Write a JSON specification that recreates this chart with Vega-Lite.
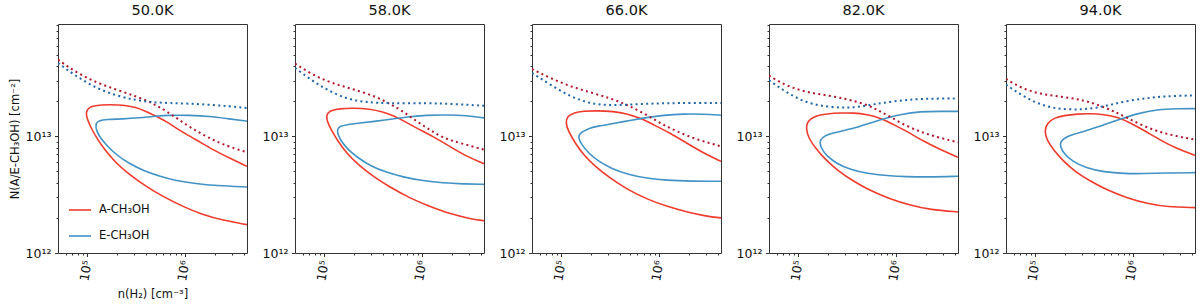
{
"$schema":"https://vega.github.io/schema/vega-lite/v6.json",
"background":"white",
"padding":{"left":8,"top":2,"right":5,"bottom":5},
"bounds":"flush",
"spacing":48,
"config":{
 "font":"DejaVu Sans",
 "view":{"stroke":"#333","strokeWidth":1},
 "axis":{"labelFont":"DejaVu Sans","labelFontSize":12.5,"labelColor":"#111","titleFont":"DejaVu Sans","titleFontSize":11.5,"titleFontWeight":"normal","titleColor":"#111","tickColor":"#333","tickWidth":1,"domain":false,"grid":false,"labelPadding":3.5},
 "axisX":{"titlePadding":7},
 "axisY":{"titlePadding":5},
 "title":{"font":"DejaVu Sans","fontSize":14.5,"fontWeight":"normal","color":"#111","offset":6},
 "legend":{"labelFont":"DejaVu Sans","labelFontSize":11.5,"labelColor":"#111"}
},
"datasets":{"d":[
{"T":"50.0K","species":"A","style":"solid","i":0,"n":4.3e6,"N":5.54e12},
{"T":"50.0K","species":"A","style":"solid","i":1,"n":2.84e6,"N":6.53e12},
{"T":"50.0K","species":"A","style":"solid","i":2,"n":1.91e6,"N":7.69e12},
{"T":"50.0K","species":"A","style":"solid","i":3,"n":1.29e6,"N":9.38e12},
{"T":"50.0K","species":"A","style":"solid","i":4,"n":8.73e5,"N":1.127e13},
{"T":"50.0K","species":"A","style":"solid","i":5,"n":6.37e5,"N":1.35e13},
{"T":"50.0K","species":"A","style":"solid","i":6,"n":5.04e5,"N":1.49e13},
{"T":"50.0K","species":"A","style":"solid","i":7,"n":3.98e5,"N":1.64e13},
{"T":"50.0K","species":"A","style":"solid","i":8,"n":3.14e5,"N":1.78e13},
{"T":"50.0K","species":"A","style":"solid","i":9,"n":2.30e5,"N":1.86e13},
{"T":"50.0K","species":"A","style":"solid","i":10,"n":1.68e5,"N":1.87e13},
{"T":"50.0K","species":"A","style":"solid","i":11,"n":1.22e5,"N":1.85e13},
{"T":"50.0K","species":"A","style":"solid","i":12,"n":1.05e5,"N":1.79e13},
{"T":"50.0K","species":"A","style":"solid","i":13,"n":9.67e4,"N":1.64e13},
{"T":"50.0K","species":"A","style":"solid","i":14,"n":9.83e4,"N":1.44e13},
{"T":"50.0K","species":"A","style":"solid","i":15,"n":1.09e5,"N":1.18e13},
{"T":"50.0K","species":"A","style":"solid","i":16,"n":1.27e5,"N":9.38e12},
{"T":"50.0K","species":"A","style":"solid","i":17,"n":1.55e5,"N":7.44e12},
{"T":"50.0K","species":"A","style":"solid","i":18,"n":1.96e5,"N":5.91e12},
{"T":"50.0K","species":"A","style":"solid","i":19,"n":2.69e5,"N":4.70e12},
{"T":"50.0K","species":"A","style":"solid","i":20,"n":3.98e5,"N":3.73e12},
{"T":"50.0K","species":"A","style":"solid","i":21,"n":5.89e5,"N":3.06e12},
{"T":"50.0K","species":"A","style":"solid","i":22,"n":9.44e5,"N":2.51e12},
{"T":"50.0K","species":"A","style":"solid","i":23,"n":1.51e6,"N":2.13e12},
{"T":"50.0K","species":"A","style":"solid","i":24,"n":2.42e6,"N":1.91e12},
{"T":"50.0K","species":"A","style":"solid","i":25,"n":4.3e6,"N":1.75e12},
{"T":"50.0K","species":"E","style":"solid","i":0,"n":4.3e6,"N":1.35e13},
{"T":"50.0K","species":"E","style":"solid","i":1,"n":2.84e6,"N":1.41e13},
{"T":"50.0K","species":"E","style":"solid","i":2,"n":1.77e6,"N":1.49e13},
{"T":"50.0K","species":"E","style":"solid","i":3,"n":1.105e6,"N":1.52e13},
{"T":"50.0K","species":"E","style":"solid","i":4,"n":6.89e5,"N":1.52e13},
{"T":"50.0K","species":"E","style":"solid","i":5,"n":5.04e5,"N":1.49e13},
{"T":"50.0K","species":"E","style":"solid","i":6,"n":3.40e5,"N":1.44e13},
{"T":"50.0K","species":"E","style":"solid","i":7,"n":2.30e5,"N":1.41e13},
{"T":"50.0K","species":"E","style":"solid","i":8,"n":1.55e5,"N":1.40e13},
{"T":"50.0K","species":"E","style":"solid","i":9,"n":1.32e5,"N":1.37e13},
{"T":"50.0K","species":"E","style":"solid","i":10,"n":1.22e5,"N":1.30e13},
{"T":"50.0K","species":"E","style":"solid","i":11,"n":1.22e5,"N":1.157e13},
{"T":"50.0K","species":"E","style":"solid","i":12,"n":1.32e5,"N":1.0e13},
{"T":"50.0K","species":"E","style":"solid","i":13,"n":1.55e5,"N":8.5e12},
{"T":"50.0K","species":"E","style":"solid","i":14,"n":1.96e5,"N":6.97e12},
{"T":"50.0K","species":"E","style":"solid","i":15,"n":2.69e5,"N":5.83e12},
{"T":"50.0K","species":"E","style":"solid","i":16,"n":3.68e5,"N":5.12e12},
{"T":"50.0K","species":"E","style":"solid","i":17,"n":5.45e5,"N":4.55e12},
{"T":"50.0K","species":"E","style":"solid","i":18,"n":8.07e5,"N":4.17e12},
{"T":"50.0K","species":"E","style":"solid","i":19,"n":1.29e6,"N":3.93e12},
{"T":"50.0K","species":"E","style":"solid","i":20,"n":2.07e6,"N":3.78e12},
{"T":"50.0K","species":"E","style":"solid","i":21,"n":4.3e6,"N":3.68e12},
{"T":"50.0K","species":"A","style":"dotted","i":0,"n":5e4,"N":4.55e13},
{"T":"50.0K","species":"A","style":"dotted","i":1,"n":7.64e4,"N":3.54e13},
{"T":"50.0K","species":"A","style":"dotted","i":2,"n":1.22e5,"N":2.91e13},
{"T":"50.0K","species":"A","style":"dotted","i":3,"n":1.96e5,"N":2.52e13},
{"T":"50.0K","species":"A","style":"dotted","i":4,"n":3.14e5,"N":2.21e13},
{"T":"50.0K","species":"A","style":"dotted","i":5,"n":4.65e5,"N":1.93e13},
{"T":"50.0K","species":"A","style":"dotted","i":6,"n":6.89e5,"N":1.59e13},
{"T":"50.0K","species":"A","style":"dotted","i":7,"n":1.02e6,"N":1.26e13},
{"T":"50.0K","species":"A","style":"dotted","i":8,"n":1.51e6,"N":1.035e13},
{"T":"50.0K","species":"A","style":"dotted","i":9,"n":2.24e6,"N":8.78e12},
{"T":"50.0K","species":"A","style":"dotted","i":10,"n":3.32e6,"N":7.80e12},
{"T":"50.0K","species":"A","style":"dotted","i":11,"n":4.3e6,"N":7.30e12},
{"T":"50.0K","species":"E","style":"dotted","i":0,"n":5e4,"N":4.26e13},
{"T":"50.0K","species":"E","style":"dotted","i":1,"n":7.64e4,"N":3.28e13},
{"T":"50.0K","species":"E","style":"dotted","i":2,"n":1.22e5,"N":2.60e13},
{"T":"50.0K","species":"E","style":"dotted","i":3,"n":1.96e5,"N":2.24e13},
{"T":"50.0K","species":"E","style":"dotted","i":4,"n":3.14e5,"N":2.04e13},
{"T":"50.0K","species":"E","style":"dotted","i":5,"n":4.65e5,"N":1.96e13},
{"T":"50.0K","species":"E","style":"dotted","i":6,"n":6.89e5,"N":1.93e13},
{"T":"50.0K","species":"E","style":"dotted","i":7,"n":1.105e6,"N":1.91e13},
{"T":"50.0K","species":"E","style":"dotted","i":8,"n":1.77e6,"N":1.87e13},
{"T":"50.0K","species":"E","style":"dotted","i":9,"n":2.84e6,"N":1.81e13},
{"T":"50.0K","species":"E","style":"dotted","i":10,"n":4.3e6,"N":1.75e13},

{"T":"58.0K","species":"A","style":"dotted","i":0,"n":5e4,"N":4.21e13},
{"T":"58.0K","species":"A","style":"dotted","i":1,"n":7.06e4,"N":3.50e13},
{"T":"58.0K","species":"A","style":"dotted","i":2,"n":1.05e5,"N":2.97e13},
{"T":"58.0K","species":"A","style":"dotted","i":3,"n":1.55e5,"N":2.69e13},
{"T":"58.0K","species":"A","style":"dotted","i":4,"n":2.30e5,"N":2.44e13},
{"T":"58.0K","species":"A","style":"dotted","i":5,"n":3.40e5,"N":2.18e13},
{"T":"58.0K","species":"A","style":"dotted","i":6,"n":4.65e5,"N":1.91e13},
{"T":"58.0K","species":"A","style":"dotted","i":7,"n":6.37e5,"N":1.64e13},
{"T":"58.0K","species":"A","style":"dotted","i":8,"n":8.73e5,"N":1.35e13},
{"T":"58.0K","species":"A","style":"dotted","i":9,"n":1.195e6,"N":1.142e13},
{"T":"58.0K","species":"A","style":"dotted","i":10,"n":1.64e6,"N":9.69e12},
{"T":"58.0K","species":"A","style":"dotted","i":11,"n":2.42e6,"N":8.78e12},
{"T":"58.0K","species":"A","style":"dotted","i":12,"n":4.3e6,"N":7.69e12},
{"T":"58.0K","species":"E","style":"dotted","i":0,"n":5e4,"N":3.86e13},
{"T":"58.0K","species":"E","style":"dotted","i":1,"n":7.64e4,"N":2.97e13},
{"T":"58.0K","species":"E","style":"dotted","i":2,"n":1.05e5,"N":2.52e13},
{"T":"58.0K","species":"E","style":"dotted","i":3,"n":1.68e5,"N":2.09e13},
{"T":"58.0K","species":"E","style":"dotted","i":4,"n":2.69e5,"N":1.96e13},
{"T":"58.0K","species":"E","style":"dotted","i":5,"n":4.65e5,"N":1.92e13},
{"T":"58.0K","species":"E","style":"dotted","i":6,"n":1.105e6,"N":1.93e13},
{"T":"58.0K","species":"E","style":"dotted","i":7,"n":2.07e6,"N":1.90e13},
{"T":"58.0K","species":"E","style":"dotted","i":8,"n":4.3e6,"N":1.83e13},
{"T":"58.0K","species":"A","style":"solid","i":0,"n":4.3e6,"N":5.83e12},
{"T":"58.0K","species":"A","style":"solid","i":1,"n":2.84e6,"N":6.75e12},
{"T":"58.0K","species":"A","style":"solid","i":2,"n":1.91e6,"N":8.22e12},
{"T":"58.0K","species":"A","style":"solid","i":3,"n":1.29e6,"N":1.0e13},
{"T":"58.0K","species":"A","style":"solid","i":4,"n":8.73e5,"N":1.18e13},
{"T":"58.0K","species":"A","style":"solid","i":5,"n":6.37e5,"N":1.37e13},
{"T":"58.0K","species":"A","style":"solid","i":6,"n":5.04e5,"N":1.51e13},
{"T":"58.0K","species":"A","style":"solid","i":7,"n":3.98e5,"N":1.62e13},
{"T":"58.0K","species":"A","style":"solid","i":8,"n":2.91e5,"N":1.72e13},
{"T":"58.0K","species":"A","style":"solid","i":9,"n":1.96e5,"N":1.75e13},
{"T":"58.0K","species":"A","style":"solid","i":10,"n":1.43e5,"N":1.73e13},
{"T":"58.0K","species":"A","style":"solid","i":11,"n":1.13e5,"N":1.66e13},
{"T":"58.0K","species":"A","style":"solid","i":12,"n":1.05e5,"N":1.54e13},
{"T":"58.0K","species":"A","style":"solid","i":13,"n":1.06e5,"N":1.35e13},
{"T":"58.0K","species":"A","style":"solid","i":14,"n":1.18e5,"N":1.127e13},
{"T":"58.0K","species":"A","style":"solid","i":15,"n":1.38e5,"N":9.07e12},
{"T":"58.0K","species":"A","style":"solid","i":16,"n":1.68e5,"N":7.20e12},
{"T":"58.0K","species":"A","style":"solid","i":17,"n":2.21e5,"N":5.72e12},
{"T":"58.0K","species":"A","style":"solid","i":18,"n":3.14e5,"N":4.55e12},
{"T":"58.0K","species":"A","style":"solid","i":19,"n":4.65e5,"N":3.68e12},
{"T":"58.0K","species":"A","style":"solid","i":20,"n":7.46e5,"N":2.96e12},
{"T":"58.0K","species":"A","style":"solid","i":21,"n":1.195e6,"N":2.51e12},
{"T":"58.0K","species":"A","style":"solid","i":22,"n":1.91e6,"N":2.17e12},
{"T":"58.0K","species":"A","style":"solid","i":23,"n":3.07e6,"N":1.97e12},
{"T":"58.0K","species":"A","style":"solid","i":24,"n":4.3e6,"N":1.89e12},
{"T":"58.0K","species":"E","style":"solid","i":0,"n":4.3e6,"N":1.44e13},
{"T":"58.0K","species":"E","style":"solid","i":1,"n":2.84e6,"N":1.51e13},
{"T":"58.0K","species":"E","style":"solid","i":2,"n":1.77e6,"N":1.53e13},
{"T":"58.0K","species":"E","style":"solid","i":3,"n":1.105e6,"N":1.52e13},
{"T":"58.0K","species":"E","style":"solid","i":4,"n":6.89e5,"N":1.47e13},
{"T":"58.0K","species":"E","style":"solid","i":5,"n":5.04e5,"N":1.41e13},
{"T":"58.0K","species":"E","style":"solid","i":6,"n":3.40e5,"N":1.35e13},
{"T":"58.0K","species":"E","style":"solid","i":7,"n":2.30e5,"N":1.30e13},
{"T":"58.0K","species":"E","style":"solid","i":8,"n":1.68e5,"N":1.26e13},
{"T":"58.0K","species":"E","style":"solid","i":9,"n":1.43e5,"N":1.22e13},
{"T":"58.0K","species":"E","style":"solid","i":10,"n":1.36e5,"N":1.157e13},
{"T":"58.0K","species":"E","style":"solid","i":11,"n":1.36e5,"N":1.055e13},
{"T":"58.0K","species":"E","style":"solid","i":12,"n":1.49e5,"N":9.07e12},
{"T":"58.0K","species":"E","style":"solid","i":13,"n":1.74e5,"N":7.69e12},
{"T":"58.0K","species":"E","style":"solid","i":14,"n":2.21e5,"N":6.53e12},
{"T":"58.0K","species":"E","style":"solid","i":15,"n":3.02e5,"N":5.54e12},
{"T":"58.0K","species":"E","style":"solid","i":16,"n":4.30e5,"N":4.92e12},
{"T":"58.0K","species":"E","style":"solid","i":17,"n":6.37e5,"N":4.48e12},
{"T":"58.0K","species":"E","style":"solid","i":18,"n":1.02e6,"N":4.17e12},
{"T":"58.0K","species":"E","style":"solid","i":19,"n":1.64e6,"N":3.98e12},
{"T":"58.0K","species":"E","style":"solid","i":20,"n":2.62e6,"N":3.91e12},
{"T":"58.0K","species":"E","style":"solid","i":21,"n":4.3e6,"N":3.88e12},

{"T":"66.0K","species":"A","style":"dotted","i":0,"n":5e4,"N":3.78e13},
{"T":"66.0K","species":"A","style":"dotted","i":1,"n":7.64e4,"N":3.17e13},
{"T":"66.0K","species":"A","style":"dotted","i":2,"n":1.22e5,"N":2.69e13},
{"T":"66.0K","species":"A","style":"dotted","i":3,"n":1.96e5,"N":2.39e13},
{"T":"66.0K","species":"A","style":"dotted","i":4,"n":3.14e5,"N":2.13e13},
{"T":"66.0K","species":"A","style":"dotted","i":5,"n":4.65e5,"N":1.87e13},
{"T":"66.0K","species":"A","style":"dotted","i":6,"n":6.89e5,"N":1.59e13},
{"T":"66.0K","species":"A","style":"dotted","i":7,"n":1.02e6,"N":1.30e13},
{"T":"66.0K","species":"A","style":"dotted","i":8,"n":1.51e6,"N":1.105e13},
{"T":"66.0K","species":"A","style":"dotted","i":9,"n":2.42e6,"N":9.38e12},
{"T":"66.0K","species":"A","style":"dotted","i":10,"n":4.3e6,"N":8.22e12},
{"T":"66.0K","species":"E","style":"dotted","i":0,"n":5e4,"N":3.50e13},
{"T":"66.0K","species":"E","style":"dotted","i":1,"n":7.64e4,"N":2.78e13},
{"T":"66.0K","species":"E","style":"dotted","i":2,"n":1.22e5,"N":2.21e13},
{"T":"66.0K","species":"E","style":"dotted","i":3,"n":1.96e5,"N":1.90e13},
{"T":"66.0K","species":"E","style":"dotted","i":4,"n":3.14e5,"N":1.85e13},
{"T":"66.0K","species":"E","style":"dotted","i":5,"n":5.04e5,"N":1.87e13},
{"T":"66.0K","species":"E","style":"dotted","i":6,"n":8.07e5,"N":1.91e13},
{"T":"66.0K","species":"E","style":"dotted","i":7,"n":1.29e6,"N":1.93e13},
{"T":"66.0K","species":"E","style":"dotted","i":8,"n":2.07e6,"N":1.93e13},
{"T":"66.0K","species":"E","style":"dotted","i":9,"n":4.3e6,"N":1.93e13},
{"T":"66.0K","species":"A","style":"solid","i":0,"n":4.3e6,"N":6.11e12},
{"T":"66.0K","species":"A","style":"solid","i":1,"n":2.84e6,"N":7.20e12},
{"T":"66.0K","species":"A","style":"solid","i":2,"n":1.91e6,"N":8.78e12},
{"T":"66.0K","species":"A","style":"solid","i":3,"n":1.29e6,"N":1.069e13},
{"T":"66.0K","species":"A","style":"solid","i":4,"n":8.73e5,"N":1.26e13},
{"T":"66.0K","species":"A","style":"solid","i":5,"n":6.37e5,"N":1.44e13},
{"T":"66.0K","species":"A","style":"solid","i":6,"n":4.65e5,"N":1.57e13},
{"T":"66.0K","species":"A","style":"solid","i":7,"n":3.40e5,"N":1.64e13},
{"T":"66.0K","species":"A","style":"solid","i":8,"n":2.30e5,"N":1.66e13},
{"T":"66.0K","species":"A","style":"solid","i":9,"n":1.68e5,"N":1.65e13},
{"T":"66.0K","species":"A","style":"solid","i":10,"n":1.32e5,"N":1.59e13},
{"T":"66.0K","species":"A","style":"solid","i":11,"n":1.15e5,"N":1.49e13},
{"T":"66.0K","species":"A","style":"solid","i":12,"n":1.105e5,"N":1.30e13},
{"T":"66.0K","species":"A","style":"solid","i":13,"n":1.18e5,"N":1.105e13},
{"T":"66.0K","species":"A","style":"solid","i":14,"n":1.38e5,"N":8.78e12},
{"T":"66.0K","species":"A","style":"solid","i":15,"n":1.68e5,"N":6.97e12},
{"T":"66.0K","species":"A","style":"solid","i":16,"n":2.21e5,"N":5.54e12},
{"T":"66.0K","species":"A","style":"solid","i":17,"n":3.14e5,"N":4.40e12},
{"T":"66.0K","species":"A","style":"solid","i":18,"n":4.65e5,"N":3.54e12},
{"T":"66.0K","species":"A","style":"solid","i":19,"n":7.46e5,"N":2.90e12},
{"T":"66.0K","species":"A","style":"solid","i":20,"n":1.195e6,"N":2.51e12},
{"T":"66.0K","species":"A","style":"solid","i":21,"n":1.91e6,"N":2.25e12},
{"T":"66.0K","species":"A","style":"solid","i":22,"n":3.07e6,"N":2.06e12},
{"T":"66.0K","species":"A","style":"solid","i":23,"n":4.3e6,"N":2.00e12},
{"T":"66.0K","species":"E","style":"solid","i":0,"n":4.3e6,"N":1.52e13},
{"T":"66.0K","species":"E","style":"solid","i":1,"n":2.84e6,"N":1.55e13},
{"T":"66.0K","species":"E","style":"solid","i":2,"n":1.77e6,"N":1.56e13},
{"T":"66.0K","species":"E","style":"solid","i":3,"n":1.105e6,"N":1.52e13},
{"T":"66.0K","species":"E","style":"solid","i":4,"n":7.46e5,"N":1.45e13},
{"T":"66.0K","species":"E","style":"solid","i":5,"n":5.04e5,"N":1.37e13},
{"T":"66.0K","species":"E","style":"solid","i":6,"n":3.40e5,"N":1.29e13},
{"T":"66.0K","species":"E","style":"solid","i":7,"n":2.30e5,"N":1.22e13},
{"T":"66.0K","species":"E","style":"solid","i":8,"n":1.96e5,"N":1.18e13},
{"T":"66.0K","species":"E","style":"solid","i":9,"n":1.68e5,"N":1.105e13},
{"T":"66.0K","species":"E","style":"solid","i":10,"n":1.53e5,"N":1.055e13},
{"T":"66.0K","species":"E","style":"solid","i":11,"n":1.49e5,"N":9.69e12},
{"T":"66.0K","species":"E","style":"solid","i":12,"n":1.61e5,"N":8.50e12},
{"T":"66.0K","species":"E","style":"solid","i":13,"n":1.89e5,"N":7.20e12},
{"T":"66.0K","species":"E","style":"solid","i":14,"n":2.39e5,"N":6.11e12},
{"T":"66.0K","species":"E","style":"solid","i":15,"n":3.27e5,"N":5.29e12},
{"T":"66.0K","species":"E","style":"solid","i":16,"n":4.84e5,"N":4.70e12},
{"T":"66.0K","species":"E","style":"solid","i":17,"n":7.46e5,"N":4.37e12},
{"T":"66.0K","species":"E","style":"solid","i":18,"n":1.195e6,"N":4.20e12},
{"T":"66.0K","species":"E","style":"solid","i":19,"n":2.07e6,"N":4.12e12},
{"T":"66.0K","species":"E","style":"solid","i":20,"n":4.3e6,"N":4.12e12},

{"T":"82.0K","species":"A","style":"dotted","i":0,"n":5e4,"N":3.32e13},
{"T":"82.0K","species":"A","style":"dotted","i":1,"n":7.64e4,"N":2.69e13},
{"T":"82.0K","species":"A","style":"dotted","i":2,"n":1.22e5,"N":2.39e13},
{"T":"82.0K","species":"A","style":"dotted","i":3,"n":1.96e5,"N":2.25e13},
{"T":"82.0K","species":"A","style":"dotted","i":4,"n":3.14e5,"N":2.09e13},
{"T":"82.0K","species":"A","style":"dotted","i":5,"n":4.65e5,"N":1.91e13},
{"T":"82.0K","species":"A","style":"dotted","i":6,"n":6.37e5,"N":1.70e13},
{"T":"82.0K","species":"A","style":"dotted","i":7,"n":8.73e5,"N":1.47e13},
{"T":"82.0K","species":"A","style":"dotted","i":8,"n":1.29e6,"N":1.22e13},
{"T":"82.0K","species":"A","style":"dotted","i":9,"n":1.91e6,"N":1.069e13},
{"T":"82.0K","species":"A","style":"dotted","i":10,"n":2.84e6,"N":9.69e12},
{"T":"82.0K","species":"A","style":"dotted","i":11,"n":4.3e6,"N":8.90e12},
{"T":"82.0K","species":"E","style":"dotted","i":0,"n":5e4,"N":3.03e13},
{"T":"82.0K","species":"E","style":"dotted","i":1,"n":7.64e4,"N":2.36e13},
{"T":"82.0K","species":"E","style":"dotted","i":2,"n":1.22e5,"N":1.93e13},
{"T":"82.0K","species":"E","style":"dotted","i":3,"n":1.96e5,"N":1.79e13},
{"T":"82.0K","species":"E","style":"dotted","i":4,"n":3.14e5,"N":1.75e13},
{"T":"82.0K","species":"E","style":"dotted","i":5,"n":4.65e5,"N":1.81e13},
{"T":"82.0K","species":"E","style":"dotted","i":6,"n":6.37e5,"N":1.91e13},
{"T":"82.0K","species":"E","style":"dotted","i":7,"n":9.44e5,"N":2.00e13},
{"T":"82.0K","species":"E","style":"dotted","i":8,"n":1.40e6,"N":2.07e13},
{"T":"82.0K","species":"E","style":"dotted","i":9,"n":2.07e6,"N":2.11e13},
{"T":"82.0K","species":"E","style":"dotted","i":10,"n":4.3e6,"N":2.11e13},
{"T":"82.0K","species":"A","style":"solid","i":0,"n":4.3e6,"N":6.61e12},
{"T":"82.0K","species":"A","style":"solid","i":1,"n":2.84e6,"N":7.69e12},
{"T":"82.0K","species":"A","style":"solid","i":2,"n":1.91e6,"N":9.07e12},
{"T":"82.0K","species":"A","style":"solid","i":3,"n":1.29e6,"N":1.105e13},
{"T":"82.0K","species":"A","style":"solid","i":4,"n":9.44e5,"N":1.26e13},
{"T":"82.0K","species":"A","style":"solid","i":5,"n":6.89e5,"N":1.44e13},
{"T":"82.0K","species":"A","style":"solid","i":6,"n":5.04e5,"N":1.54e13},
{"T":"82.0K","species":"A","style":"solid","i":7,"n":3.68e5,"N":1.59e13},
{"T":"82.0K","species":"A","style":"solid","i":8,"n":2.69e5,"N":1.59e13},
{"T":"82.0K","species":"A","style":"solid","i":9,"n":1.96e5,"N":1.56e13},
{"T":"82.0K","species":"A","style":"solid","i":10,"n":1.55e5,"N":1.51e13},
{"T":"82.0K","species":"A","style":"solid","i":11,"n":1.32e5,"N":1.41e13},
{"T":"82.0K","species":"A","style":"solid","i":12,"n":1.22e5,"N":1.30e13},
{"T":"82.0K","species":"A","style":"solid","i":13,"n":1.205e5,"N":1.142e13},
{"T":"82.0K","species":"A","style":"solid","i":14,"n":1.27e5,"N":9.69e12},
{"T":"82.0K","species":"A","style":"solid","i":15,"n":1.49e5,"N":7.96e12},
{"T":"82.0K","species":"A","style":"solid","i":16,"n":1.89e5,"N":6.32e12},
{"T":"82.0K","species":"A","style":"solid","i":17,"n":2.58e5,"N":5.02e12},
{"T":"82.0K","species":"A","style":"solid","i":18,"n":3.68e5,"N":4.12e12},
{"T":"82.0K","species":"A","style":"solid","i":19,"n":5.45e5,"N":3.42e12},
{"T":"82.0K","species":"A","style":"solid","i":20,"n":8.73e5,"N":2.90e12},
{"T":"82.0K","species":"A","style":"solid","i":21,"n":1.40e6,"N":2.56e12},
{"T":"82.0K","species":"A","style":"solid","i":22,"n":2.24e6,"N":2.35e12},
{"T":"82.0K","species":"A","style":"solid","i":23,"n":4.3e6,"N":2.25e12},
{"T":"82.0K","species":"E","style":"solid","i":0,"n":4.3e6,"N":1.64e13},
{"T":"82.0K","species":"E","style":"solid","i":1,"n":2.84e6,"N":1.64e13},
{"T":"82.0K","species":"E","style":"solid","i":2,"n":1.77e6,"N":1.64e13},
{"T":"82.0K","species":"E","style":"solid","i":3,"n":1.105e6,"N":1.54e13},
{"T":"82.0K","species":"E","style":"solid","i":4,"n":8.07e5,"N":1.44e13},
{"T":"82.0K","species":"E","style":"solid","i":5,"n":5.89e5,"N":1.33e13},
{"T":"82.0K","species":"E","style":"solid","i":6,"n":4.30e5,"N":1.22e13},
{"T":"82.0K","species":"E","style":"solid","i":7,"n":3.14e5,"N":1.142e13},
{"T":"82.0K","species":"E","style":"solid","i":8,"n":2.30e5,"N":1.069e13},
{"T":"82.0K","species":"E","style":"solid","i":9,"n":1.96e5,"N":1.035e13},
{"T":"82.0K","species":"E","style":"solid","i":10,"n":1.74e5,"N":9.69e12},
{"T":"82.0K","species":"E","style":"solid","i":11,"n":1.65e5,"N":9.07e12},
{"T":"82.0K","species":"E","style":"solid","i":12,"n":1.70e5,"N":7.96e12},
{"T":"82.0K","species":"E","style":"solid","i":13,"n":1.96e5,"N":6.75e12},
{"T":"82.0K","species":"E","style":"solid","i":14,"n":2.48e5,"N":5.83e12},
{"T":"82.0K","species":"E","style":"solid","i":15,"n":3.40e5,"N":5.18e12},
{"T":"82.0K","species":"E","style":"solid","i":16,"n":5.04e5,"N":4.79e12},
{"T":"82.0K","species":"E","style":"solid","i":17,"n":8.07e5,"N":4.61e12},
{"T":"82.0K","species":"E","style":"solid","i":18,"n":1.29e6,"N":4.51e12},
{"T":"82.0K","species":"E","style":"solid","i":19,"n":2.07e6,"N":4.48e12},
{"T":"82.0K","species":"E","style":"solid","i":20,"n":4.3e6,"N":4.55e12},

{"T":"94.0K","species":"A","style":"dotted","i":0,"n":5e4,"N":3.11e13},
{"T":"94.0K","species":"A","style":"dotted","i":1,"n":7.64e4,"N":2.52e13},
{"T":"94.0K","species":"A","style":"dotted","i":2,"n":1.22e5,"N":2.28e13},
{"T":"94.0K","species":"A","style":"dotted","i":3,"n":1.96e5,"N":2.18e13},
{"T":"94.0K","species":"A","style":"dotted","i":4,"n":3.14e5,"N":2.04e13},
{"T":"94.0K","species":"A","style":"dotted","i":5,"n":4.65e5,"N":1.83e13},
{"T":"94.0K","species":"A","style":"dotted","i":6,"n":6.37e5,"N":1.64e13},
{"T":"94.0K","species":"A","style":"dotted","i":7,"n":8.73e5,"N":1.44e13},
{"T":"94.0K","species":"A","style":"dotted","i":8,"n":1.29e6,"N":1.22e13},
{"T":"94.0K","species":"A","style":"dotted","i":9,"n":1.91e6,"N":1.083e13},
{"T":"94.0K","species":"A","style":"dotted","i":10,"n":2.84e6,"N":1.0e13},
{"T":"94.0K","species":"A","style":"dotted","i":11,"n":4.3e6,"N":9.38e12},
{"T":"94.0K","species":"E","style":"dotted","i":0,"n":5e4,"N":2.78e13},
{"T":"94.0K","species":"E","style":"dotted","i":1,"n":7.64e4,"N":2.18e13},
{"T":"94.0K","species":"E","style":"dotted","i":2,"n":1.22e5,"N":1.81e13},
{"T":"94.0K","species":"E","style":"dotted","i":3,"n":1.96e5,"N":1.70e13},
{"T":"94.0K","species":"E","style":"dotted","i":4,"n":3.14e5,"N":1.70e13},
{"T":"94.0K","species":"E","style":"dotted","i":5,"n":4.65e5,"N":1.78e13},
{"T":"94.0K","species":"E","style":"dotted","i":6,"n":6.37e5,"N":1.90e13},
{"T":"94.0K","species":"E","style":"dotted","i":7,"n":9.44e5,"N":2.04e13},
{"T":"94.0K","species":"E","style":"dotted","i":8,"n":1.40e6,"N":2.13e13},
{"T":"94.0K","species":"E","style":"dotted","i":9,"n":2.07e6,"N":2.21e13},
{"T":"94.0K","species":"E","style":"dotted","i":10,"n":4.3e6,"N":2.25e13},
{"T":"94.0K","species":"A","style":"solid","i":0,"n":4.3e6,"N":6.88e12},
{"T":"94.0K","species":"A","style":"solid","i":1,"n":2.84e6,"N":7.80e12},
{"T":"94.0K","species":"A","style":"solid","i":2,"n":1.91e6,"N":9.25e12},
{"T":"94.0K","species":"A","style":"solid","i":3,"n":1.29e6,"N":1.127e13},
{"T":"94.0K","species":"A","style":"solid","i":4,"n":9.44e5,"N":1.30e13},
{"T":"94.0K","species":"A","style":"solid","i":5,"n":6.89e5,"N":1.47e13},
{"T":"94.0K","species":"A","style":"solid","i":6,"n":5.04e5,"N":1.54e13},
{"T":"94.0K","species":"A","style":"solid","i":7,"n":3.68e5,"N":1.57e13},
{"T":"94.0K","species":"A","style":"solid","i":8,"n":2.69e5,"N":1.56e13},
{"T":"94.0K","species":"A","style":"solid","i":9,"n":1.96e5,"N":1.51e13},
{"T":"94.0K","species":"A","style":"solid","i":10,"n":1.55e5,"N":1.44e13},
{"T":"94.0K","species":"A","style":"solid","i":11,"n":1.32e5,"N":1.30e13},
{"T":"94.0K","species":"A","style":"solid","i":12,"n":1.24e5,"N":1.127e13},
{"T":"94.0K","species":"A","style":"solid","i":13,"n":1.30e5,"N":9.38e12},
{"T":"94.0K","species":"A","style":"solid","i":14,"n":1.53e5,"N":7.69e12},
{"T":"94.0K","species":"A","style":"solid","i":15,"n":1.93e5,"N":6.11e12},
{"T":"94.0K","species":"A","style":"solid","i":16,"n":2.58e5,"N":4.95e12},
{"T":"94.0K","species":"A","style":"solid","i":17,"n":3.68e5,"N":4.12e12},
{"T":"94.0K","species":"A","style":"solid","i":18,"n":5.45e5,"N":3.45e12},
{"T":"94.0K","species":"A","style":"solid","i":19,"n":8.73e5,"N":2.96e12},
{"T":"94.0K","species":"A","style":"solid","i":20,"n":1.40e6,"N":2.65e12},
{"T":"94.0K","species":"A","style":"solid","i":21,"n":2.24e6,"N":2.48e12},
{"T":"94.0K","species":"A","style":"solid","i":22,"n":4.3e6,"N":2.45e12},
{"T":"94.0K","species":"E","style":"solid","i":0,"n":4.3e6,"N":1.73e13},
{"T":"94.0K","species":"E","style":"solid","i":1,"n":2.84e6,"N":1.73e13},
{"T":"94.0K","species":"E","style":"solid","i":2,"n":1.77e6,"N":1.70e13},
{"T":"94.0K","species":"E","style":"solid","i":3,"n":1.105e6,"N":1.57e13},
{"T":"94.0K","species":"E","style":"solid","i":4,"n":8.07e5,"N":1.44e13},
{"T":"94.0K","species":"E","style":"solid","i":5,"n":5.89e5,"N":1.32e13},
{"T":"94.0K","species":"E","style":"solid","i":6,"n":4.30e5,"N":1.20e13},
{"T":"94.0K","species":"E","style":"solid","i":7,"n":3.14e5,"N":1.105e13},
{"T":"94.0K","species":"E","style":"solid","i":8,"n":2.39e5,"N":1.035e13},
{"T":"94.0K","species":"E","style":"solid","i":9,"n":2.04e5,"N":9.81e12},
{"T":"94.0K","species":"E","style":"solid","i":10,"n":1.81e5,"N":9.07e12},
{"T":"94.0K","species":"E","style":"solid","i":11,"n":1.79e5,"N":8.22e12},
{"T":"94.0K","species":"E","style":"solid","i":12,"n":1.96e5,"N":7.11e12},
{"T":"94.0K","species":"E","style":"solid","i":13,"n":2.39e5,"N":6.11e12},
{"T":"94.0K","species":"E","style":"solid","i":14,"n":3.27e5,"N":5.36e12},
{"T":"94.0K","species":"E","style":"solid","i":15,"n":5.04e5,"N":4.95e12},
{"T":"94.0K","species":"E","style":"solid","i":16,"n":8.07e5,"N":4.79e12},
{"T":"94.0K","species":"E","style":"solid","i":17,"n":1.29e6,"N":4.79e12},
{"T":"94.0K","species":"E","style":"solid","i":18,"n":2.07e6,"N":4.85e12},
{"T":"94.0K","species":"E","style":"solid","i":19,"n":4.3e6,"N":4.89e12}
]},
"data":{"name":"d"},
"resolve":{"scale":{"color":"independent","stroke":"independent"},"legend":{"color":"independent","stroke":"independent"}},
"hconcat":[
{"width":189,"height":229,"title":"50.0K","transform":[{"filter":"datum.T==='50.0K'"}],
 "resolve":{"axis":{"x":"independent","y":"independent"}},
 "layer":[
  {"transform":[{"filter":"datum.style==='solid'"}],
   "mark":{"type":"line","strokeWidth":1.6,"interpolate":"basis","clip":true},
   "encoding":{
    "x":{"field":"n","type":"quantitative","scale":{"type":"log","domain":[5e4,4.3e6],"nice":false},"axis":{"orient":"bottom","values":[1e5,1e6],"labelExpr":"datum.value==1e5?'10⁵':'10⁶'","labelAngle":-80,"tickSize":3.5,"title":"n(H₂) [cm⁻³]"}},
    "y":{"field":"N","type":"quantitative","scale":{"type":"log","domain":[1e12,9.2e13],"nice":false},"axis":{"orient":"left","values":[1e12,1e13],"labelExpr":"datum.value==1e12?'10¹²':'10¹³'","tickSize":3.5,"title":"N(A/E-CH₃OH) [cm⁻²]"}},
    "order":{"field":"i","type":"quantitative"},
    "color":{"field":"species","type":"nominal","scale":{"domain":["A","E"],"range":["#ef3b2c","#4292c6"]},
     "legend":{"orient":"none","legendX":10,"legendY":174,"title":null,"symbolType":"stroke","symbolSize":484,"symbolStrokeWidth":1.6,"labelOffset":7,"rowPadding":8,"padding":0,"labelExpr":"datum.label+'-CH₃OH'"}}
   }},
  {"transform":[{"filter":"datum.style==='dotted'"}],
   "mark":{"type":"line","strokeWidth":2,"strokeDash":[2,3.3],"interpolate":"basis","clip":true},
   "encoding":{
    "x":{"field":"n","type":"quantitative","axis":{"orient":"bottom","values":[6e4,7e4,8e4,9e4,2e5,3e5,4e5,5e5,6e5,7e5,8e5,9e5,2e6,3e6,4e6],"labels":false,"tickSize":2,"title":null}},
    "y":{"field":"N","type":"quantitative","axis":{"orient":"left","values":[2e12,3e12,4e12,5e12,6e12,7e12,8e12,9e12,2e13,3e13,4e13,5e13,6e13,7e13,8e13,9e13],"labels":false,"tickSize":2,"title":null}},
    "order":{"field":"i","type":"quantitative"},
    "stroke":{"field":"species","type":"nominal","scale":{"domain":["A","E"],"range":["#b2182b","#2166ac"]},"legend":null}
   }}
 ]},
{"width":189,"height":229,"title":"58.0K","transform":[{"filter":"datum.T==='58.0K'"}],
 "resolve":{"axis":{"x":"independent","y":"independent"}},
 "layer":[
  {"transform":[{"filter":"datum.style==='solid'"}],
   "mark":{"type":"line","strokeWidth":1.6,"interpolate":"basis","clip":true},
   "encoding":{
    "x":{"field":"n","type":"quantitative","scale":{"type":"log","domain":[5e4,4.3e6],"nice":false},"axis":{"orient":"bottom","values":[1e5,1e6],"labelExpr":"datum.value==1e5?'10⁵':'10⁶'","labelAngle":-80,"tickSize":3.5,"title":null}},
    "y":{"field":"N","type":"quantitative","scale":{"type":"log","domain":[1e12,9.2e13],"nice":false},"axis":{"orient":"left","values":[1e12,1e13],"labelExpr":"datum.value==1e12?'10¹²':'10¹³'","tickSize":3.5,"title":null}},
    "order":{"field":"i","type":"quantitative"},
    "color":{"field":"species","type":"nominal","scale":{"domain":["A","E"],"range":["#ef3b2c","#4292c6"]},"legend":null}
   }},
  {"transform":[{"filter":"datum.style==='dotted'"}],
   "mark":{"type":"line","strokeWidth":2,"strokeDash":[2,3.3],"interpolate":"basis","clip":true},
   "encoding":{
    "x":{"field":"n","type":"quantitative","axis":{"orient":"bottom","values":[6e4,7e4,8e4,9e4,2e5,3e5,4e5,5e5,6e5,7e5,8e5,9e5,2e6,3e6,4e6],"labels":false,"tickSize":2,"title":null}},
    "y":{"field":"N","type":"quantitative","axis":{"orient":"left","values":[2e12,3e12,4e12,5e12,6e12,7e12,8e12,9e12,2e13,3e13,4e13,5e13,6e13,7e13,8e13,9e13],"labels":false,"tickSize":2,"title":null}},
    "order":{"field":"i","type":"quantitative"},
    "stroke":{"field":"species","type":"nominal","scale":{"domain":["A","E"],"range":["#b2182b","#2166ac"]},"legend":null}
   }}
 ]},
{"width":189,"height":229,"title":"66.0K","transform":[{"filter":"datum.T==='66.0K'"}],
 "resolve":{"axis":{"x":"independent","y":"independent"}},
 "layer":[
  {"transform":[{"filter":"datum.style==='solid'"}],
   "mark":{"type":"line","strokeWidth":1.6,"interpolate":"basis","clip":true},
   "encoding":{
    "x":{"field":"n","type":"quantitative","scale":{"type":"log","domain":[5e4,4.3e6],"nice":false},"axis":{"orient":"bottom","values":[1e5,1e6],"labelExpr":"datum.value==1e5?'10⁵':'10⁶'","labelAngle":-80,"tickSize":3.5,"title":null}},
    "y":{"field":"N","type":"quantitative","scale":{"type":"log","domain":[1e12,9.2e13],"nice":false},"axis":{"orient":"left","values":[1e12,1e13],"labelExpr":"datum.value==1e12?'10¹²':'10¹³'","tickSize":3.5,"title":null}},
    "order":{"field":"i","type":"quantitative"},
    "color":{"field":"species","type":"nominal","scale":{"domain":["A","E"],"range":["#ef3b2c","#4292c6"]},"legend":null}
   }},
  {"transform":[{"filter":"datum.style==='dotted'"}],
   "mark":{"type":"line","strokeWidth":2,"strokeDash":[2,3.3],"interpolate":"basis","clip":true},
   "encoding":{
    "x":{"field":"n","type":"quantitative","axis":{"orient":"bottom","values":[6e4,7e4,8e4,9e4,2e5,3e5,4e5,5e5,6e5,7e5,8e5,9e5,2e6,3e6,4e6],"labels":false,"tickSize":2,"title":null}},
    "y":{"field":"N","type":"quantitative","axis":{"orient":"left","values":[2e12,3e12,4e12,5e12,6e12,7e12,8e12,9e12,2e13,3e13,4e13,5e13,6e13,7e13,8e13,9e13],"labels":false,"tickSize":2,"title":null}},
    "order":{"field":"i","type":"quantitative"},
    "stroke":{"field":"species","type":"nominal","scale":{"domain":["A","E"],"range":["#b2182b","#2166ac"]},"legend":null}
   }}
 ]},
{"width":189,"height":229,"title":"82.0K","transform":[{"filter":"datum.T==='82.0K'"}],
 "resolve":{"axis":{"x":"independent","y":"independent"}},
 "layer":[
  {"transform":[{"filter":"datum.style==='solid'"}],
   "mark":{"type":"line","strokeWidth":1.6,"interpolate":"basis","clip":true},
   "encoding":{
    "x":{"field":"n","type":"quantitative","scale":{"type":"log","domain":[5e4,4.3e6],"nice":false},"axis":{"orient":"bottom","values":[1e5,1e6],"labelExpr":"datum.value==1e5?'10⁵':'10⁶'","labelAngle":-80,"tickSize":3.5,"title":null}},
    "y":{"field":"N","type":"quantitative","scale":{"type":"log","domain":[1e12,9.2e13],"nice":false},"axis":{"orient":"left","values":[1e12,1e13],"labelExpr":"datum.value==1e12?'10¹²':'10¹³'","tickSize":3.5,"title":null}},
    "order":{"field":"i","type":"quantitative"},
    "color":{"field":"species","type":"nominal","scale":{"domain":["A","E"],"range":["#ef3b2c","#4292c6"]},"legend":null}
   }},
  {"transform":[{"filter":"datum.style==='dotted'"}],
   "mark":{"type":"line","strokeWidth":2,"strokeDash":[2,3.3],"interpolate":"basis","clip":true},
   "encoding":{
    "x":{"field":"n","type":"quantitative","axis":{"orient":"bottom","values":[6e4,7e4,8e4,9e4,2e5,3e5,4e5,5e5,6e5,7e5,8e5,9e5,2e6,3e6,4e6],"labels":false,"tickSize":2,"title":null}},
    "y":{"field":"N","type":"quantitative","axis":{"orient":"left","values":[2e12,3e12,4e12,5e12,6e12,7e12,8e12,9e12,2e13,3e13,4e13,5e13,6e13,7e13,8e13,9e13],"labels":false,"tickSize":2,"title":null}},
    "order":{"field":"i","type":"quantitative"},
    "stroke":{"field":"species","type":"nominal","scale":{"domain":["A","E"],"range":["#b2182b","#2166ac"]},"legend":null}
   }}
 ]},
{"width":189,"height":229,"title":"94.0K","transform":[{"filter":"datum.T==='94.0K'"}],
 "resolve":{"axis":{"x":"independent","y":"independent"}},
 "layer":[
  {"transform":[{"filter":"datum.style==='solid'"}],
   "mark":{"type":"line","strokeWidth":1.6,"interpolate":"basis","clip":true},
   "encoding":{
    "x":{"field":"n","type":"quantitative","scale":{"type":"log","domain":[5e4,4.3e6],"nice":false},"axis":{"orient":"bottom","values":[1e5,1e6],"labelExpr":"datum.value==1e5?'10⁵':'10⁶'","labelAngle":-80,"tickSize":3.5,"title":null}},
    "y":{"field":"N","type":"quantitative","scale":{"type":"log","domain":[1e12,9.2e13],"nice":false},"axis":{"orient":"left","values":[1e12,1e13],"labelExpr":"datum.value==1e12?'10¹²':'10¹³'","tickSize":3.5,"title":null}},
    "order":{"field":"i","type":"quantitative"},
    "color":{"field":"species","type":"nominal","scale":{"domain":["A","E"],"range":["#ef3b2c","#4292c6"]},"legend":null}
   }},
  {"transform":[{"filter":"datum.style==='dotted'"}],
   "mark":{"type":"line","strokeWidth":2,"strokeDash":[2,3.3],"interpolate":"basis","clip":true},
   "encoding":{
    "x":{"field":"n","type":"quantitative","axis":{"orient":"bottom","values":[6e4,7e4,8e4,9e4,2e5,3e5,4e5,5e5,6e5,7e5,8e5,9e5,2e6,3e6,4e6],"labels":false,"tickSize":2,"title":null}},
    "y":{"field":"N","type":"quantitative","axis":{"orient":"left","values":[2e12,3e12,4e12,5e12,6e12,7e12,8e12,9e12,2e13,3e13,4e13,5e13,6e13,7e13,8e13,9e13],"labels":false,"tickSize":2,"title":null}},
    "order":{"field":"i","type":"quantitative"},
    "stroke":{"field":"species","type":"nominal","scale":{"domain":["A","E"],"range":["#b2182b","#2166ac"]},"legend":null}
   }}
 ]}
]
}
